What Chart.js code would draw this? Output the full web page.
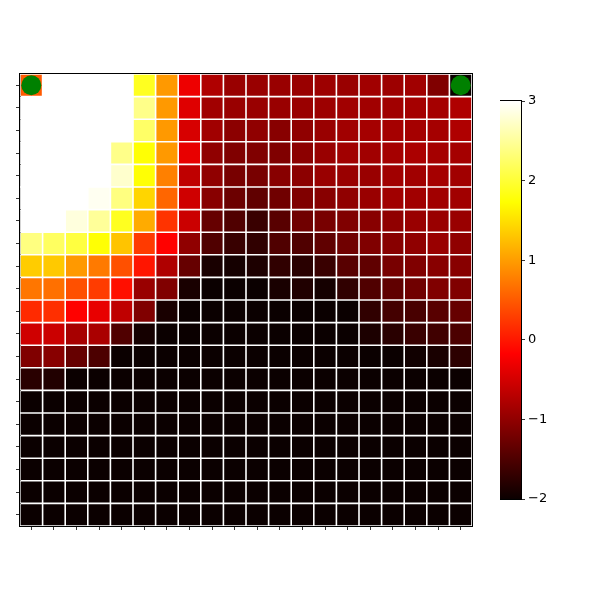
<!DOCTYPE html>
<html>
<head>
<meta charset="utf-8">
<script src="https://cdn.jsdelivr.net/npm/chart.js@4.4.1/dist/chart.umd.min.js"></script>
<style>
  html, body { margin: 0; padding: 0; background: #fff; }
  #wrap { position: relative; width: 600px; height: 600px; }
  #heat { position: absolute; left: 0; top: 0; }
  #cbar { position: absolute; left: 500px; top: 0; }
</style>
</head>
<body>
<div id="wrap">
  <canvas id="heat" width="600" height="600"></canvas>
  <canvas id="cbar" width="100" height="600"></canvas>
</div>
<script>
// grid values (row 0 = top)
const row00 = [0.50, 3.4, 3.6, 3.5, 3.2, 1.89, 0.97, -0.30, -0.77, -0.94, -0.94, -0.94, -0.94, -0.91, -0.94, -0.88, -0.91, -0.88, -1.12, -2.05]
const row01 = [3.3, 3.5, 3.6, 3.4, 3.1, 2.41, 0.97, -0.41, -0.88, -0.94, -0.94, -0.94, -0.93, -0.91, -0.88, -0.88, -0.88, -0.85, -0.85, -0.77]
const row02 = [3.2, 3.5, 3.4, 3.3, 3.05, 2.24, 0.97, -0.47, -0.88, -1.03, -1.00, -1.06, -1.00, -0.94, -0.88, -0.85, -0.85, -0.85, -0.85, -0.77]
const row03 = [3.4, 3.3, 3.2, 3.1, 2.41, 1.75, 0.97, -0.35, -1.00, -1.12, -1.12, -1.12, -1.03, -0.94, -0.88, -0.88, -0.85, -0.80, -0.85, -0.85]
const row04 = [3.3, 3.2, 3.1, 3.05, 2.75, 1.75, 0.78, -0.65, -1.00, -1.18, -1.18, -1.06, -1.03, -0.94, -0.94, -0.94, -0.88, -0.88, -0.85, -0.88]
const row05 = [3.2, 3.1, 3.05, 2.93, 2.37, 1.42, 0.59, -0.53, -1.06, -1.27, -1.36, -1.24, -1.12, -1.06, -1.00, -0.94, -0.88, -0.88, -0.88, -0.88]
const row06 = [3.1, 3.02, 2.83, 2.49, 1.89, 1.10, 0.21, -0.56, -1.32, -1.48, -1.65, -1.42, -1.24, -1.18, -1.12, -1.06, -1.00, -0.94, -0.94, -0.94]
const row07 = [2.37, 2.21, 2.05, 1.75, 1.29, 0.26, -0.17, -1.00, -1.48, -1.66, -1.72, -1.48, -1.48, -1.36, -1.24, -1.12, -1.06, -1.00, -0.94, -1.00]
const row08 = [1.35, 1.33, 0.97, 0.74, 0.42, -0.02, -0.77, -1.32, -1.89, -1.92, -1.86, -1.72, -1.77, -1.65, -1.42, -1.36, -1.18, -1.12, -1.06, -1.06]
const row09 = [0.71, 0.66, 0.42, 0.27, -0.06, -0.94, -1.12, -1.89, -2.00, -2.01, -2.02, -1.89, -1.84, -1.92, -1.72, -1.48, -1.36, -1.24, -1.12, -1.12]
const row10 = [0.14, 0.18, -0.17, -0.35, -0.65, -1.12, -1.89, -2.05, -2.10, -2.08, -2.12, -2.15, -2.10, -2.06, -2.02, -1.72, -1.57, -1.54, -1.42, -1.32]
const row11 = [-0.53, -0.56, -0.83, -0.81, -1.48, -1.92, -2.10, -2.20, -2.25, -2.20, -2.30, -2.28, -2.22, -2.15, -2.05, -1.87, -1.77, -1.65, -1.60, -1.51]
const row12 = [-1.12, -1.06, -1.32, -1.51, -2.05, -2.15, -2.30, -2.40, -2.38, -2.45, -2.50, -2.42, -2.35, -2.30, -2.20, -2.10, -2.02, -1.95, -1.89, -1.75]
const row13 = [-1.77, -1.83, -2.05, -2.15, -2.30, -2.45, -2.55, -2.60, -2.62, -2.70, -2.66, -2.60, -2.55, -2.48, -2.40, -2.30, -2.20, -2.12, -2.08, -2.03]
const row14 = [-2.10, -2.20, -2.35, -2.50, -2.60, -2.70, -2.80, -2.85, -2.90, -2.92, -2.90, -2.85, -2.80, -2.72, -2.62, -2.52, -2.40, -2.30, -2.22, -2.15]
const row15 = [-2.30, -2.40, -2.55, -2.70, -2.80, -2.90, -2.95, -3.00, -3.05, -3.08, -3.05, -3.00, -2.95, -2.88, -2.80, -2.70, -2.58, -2.46, -2.36, -2.28]
const row16 = [-2.45, -2.55, -2.70, -2.82, -2.92, -3.00, -3.08, -3.12, -3.15, -3.18, -3.15, -3.12, -3.06, -3.00, -2.92, -2.82, -2.70, -2.58, -2.48, -2.40]
const row17 = [-2.55, -2.66, -2.80, -2.92, -3.02, -3.10, -3.16, -3.20, -3.24, -3.25, -3.24, -3.20, -3.15, -3.08, -3.00, -2.90, -2.80, -2.68, -2.58, -2.50]
const row18 = [-2.62, -2.74, -2.86, -2.98, -3.08, -3.15, -3.22, -3.26, -3.30, -3.31, -3.30, -3.26, -3.20, -3.14, -3.06, -2.96, -2.86, -2.74, -2.64, -2.56]
const row19 = [-2.68, -2.80, -2.92, -3.03, -3.12, -3.20, -3.26, -3.30, -3.33, -3.35, -3.33, -3.30, -3.25, -3.18, -3.10, -3.00, -2.90, -2.78, -2.68, -2.60]
const rows = [row00, row01, row02, row03, row04, row05, row06, row07, row08, row09,
              row10, row11, row12, row13, row14, row15, row16, row17, row18, row19]

const columns = ['0','1','2','3','4','5','6','7','8','9','10','11','12','13','14','15','16','17','18','19']
const rowTicks = [0.5, 1.5, 2.5, 3.5, 4.5, 5.5, 6.5, 7.5, 8.5, 9.5, 10.5, 11.5, 12.5, 13.5, 14.5, 15.5, 16.5, 17.5, 18.5, 19.5]
const markerCols = [0, 19]     // green dots sit in the top row
const markerRow = 0
const vmin = -2
const vmax = 3
const cbarTicks = [-2, -1, 0, 1, 2, 3]

// matplotlib "hot" colormap
function hot(v) {
    var t = (v - vmin) / (vmax - vmin)
    t = Math.max(0, Math.min(1, t))
    var r = t < 0.365079 ? 0.0416 + (1 - 0.0416) * t / 0.365079 : 1
    var g = t < 0.365079 ? 0 : (t < 0.746032 ? (t - 0.365079) / (0.746032 - 0.365079) : 1)
    var b = t < 0.746032 ? 0 : (t - 0.746032) / (1 - 0.746032)
    return `rgb(${Math.round(r * 255)},${Math.round(g * 255)},${Math.round(b * 255)})`
}

const frame = {
    id: 'frame',
    afterDraw(chart) {
        const a = chart.chartArea
        const c = chart.ctx
        c.save()
        c.strokeStyle = '#000'
        c.lineWidth = 1
        c.strokeRect(Math.round(a.left) - 0.5, Math.round(a.top) - 0.5,
                     Math.round(a.right - a.left) + 1, Math.round(a.bottom - a.top) + 1)
        c.restore()
    }
}

// bars are stacked bottom-up, so the last row goes in first
var barSets = []
for (var i = rows.length - 1; i >= 0; i--) {
    barSets.push({
        type: 'bar',
        order: 1,
        data: rows[i].map(() => 1),
        backgroundColor: rows[i].map(hot),
        borderColor: '#ffffff',
        borderWidth: 0.8,
        borderSkipped: false,
        inflateAmount: 0,
        barPercentage: 1,
        categoryPercentage: 1
    })
}

const markerSet = {
    type: 'line',
    order: 0,
    data: columns.map((c, i) => markerCols.includes(i) ? rows.length - markerRow - 0.5 : null),
    showLine: false,
    pointRadius: 10,
    pointHoverRadius: 10,
    pointBackgroundColor: '#008000',
    pointBorderWidth: 0,
    borderColor: '#008000'
}

const heat = new Chart(document.getElementById('heat'), {
    data: { labels: columns, datasets: [markerSet].concat(barSets) },
    options: {
        responsive: false,
        animation: false,
        events: [],
        layout: { padding: { left: 16, top: 74, right: 128, bottom: 70 } },
        plugins: { legend: { display: false }, tooltip: { enabled: false } },
        scales: {
            x: {
                stacked: true,
                offset: true,
                ticks: { display: false },
                grid: { offset: false, drawOnChartArea: false, drawTicks: true, tickLength: 4, color: '#000', lineWidth: 0.8 },
                border: { display: true, color: '#000', width: 1 },
                afterFit: s => { s.height = 4 }
            },
            y: {
                stacked: true,
                min: 0,
                max: 20,
                ticks: { display: false },
                afterBuildTicks: s => { s.ticks = rowTicks.map(v => ({ value: v })) },
                grid: { drawOnChartArea: false, drawTicks: true, tickLength: 4, color: '#000', lineWidth: 0.8 },
                border: { display: true, color: '#000', width: 1 },
                afterFit: s => { s.width = 4 }
            }
        }
    },
    plugins: [frame]
})

function cbarFill(ctx) {
    const area = ctx.chart.chartArea
    if (!area) return 'rgba(0,0,0,0)'
    const g = ctx.chart.ctx.createLinearGradient(0, area.bottom, 0, area.top)
    ;[0, 0.365079, 0.746032, 1].forEach(t => g.addColorStop(t, hot(vmin + t * (vmax - vmin))))
    return g
}

const cbar = new Chart(document.getElementById('cbar'), {
    type: 'bar',
    data: {
        labels: ['cbar'],
        datasets: [{
            data: [[vmin, vmax]],
            backgroundColor: cbarFill,
            borderWidth: 0,
            barPercentage: 1,
            categoryPercentage: 1
        }]
    },
    options: {
        responsive: false,
        animation: false,
        events: [],
        layout: { padding: { left: 0, top: 101, right: 39, bottom: 101 } },
        plugins: { legend: { display: false }, tooltip: { enabled: false } },
        scales: {
            x: { display: false },
            y: {
                position: 'right',
                min: vmin,
                max: vmax,
                afterBuildTicks: s => { s.ticks = cbarTicks.map(v => ({ value: v })) },
                ticks: {
                    color: '#000',
                    padding: 3,
                    font: { family: 'DejaVu Sans', size: 13 },
                    callback: v => String(v).replace('-', '\u2212')
                },
                grid: { drawOnChartArea: false, drawTicks: true, tickLength: 4, color: '#000', lineWidth: 0.8 },
                border: { display: true, color: '#000', width: 1 },
                afterFit: s => { s.width = 40 }
            }
        }
    },
    plugins: [frame]
})
</script>
</body>
</html>
